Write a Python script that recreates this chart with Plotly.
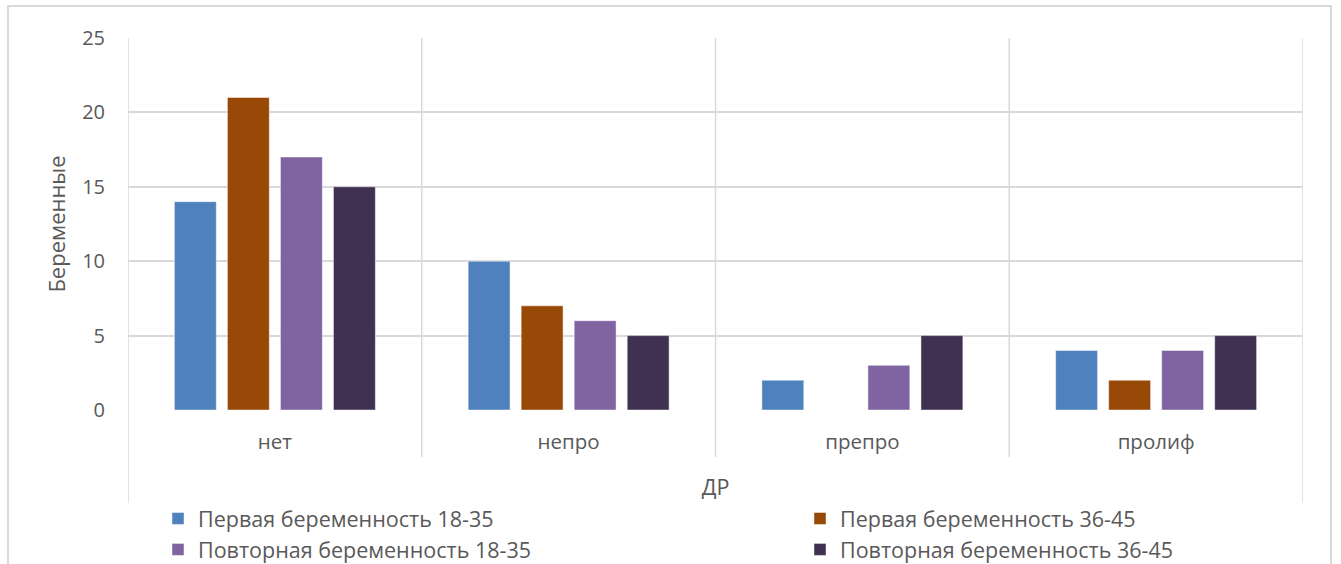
import plotly.graph_objects as go

# Data
categories = ["нет", "непро", "препро", "пролиф"]
series_names = [
    "Первая беременность 18-35",
    "Первая беременность 36-45",
    "Повторная беременность 18-35",
    "Повторная беременность 36-45",
]
first_18_35 = [14, 10, 2, 4]
first_36_45 = [21, 7, 0, 2]
repeat_18_35 = [17, 6, 3, 4]
repeat_36_45 = [15, 5, 5, 5]
y_ticks = [0, 5, 10, 15, 20, 25]

series_values = [first_18_35, first_36_45, repeat_18_35, repeat_36_45]
colors = ["#4F81BD", "#984807", "#8064A2", "#403152"]
# two-column legend: left column holds series 1 and 3, right column 2 and 4
legend_ids = ["legend", "legend2", "legend", "legend2"]

FONT = "Open Sans"
TXT = "#595959"
GRID = "#D9D9D9"

fig = go.Figure()
for name, vals, col, lg in zip(series_names, series_values, colors, legend_ids):
    fig.add_trace(go.Bar(
        x=categories, y=vals, name=name, legend=lg,
        marker=dict(color=col, line=dict(color="rgba(255,255,255,0.45)", width=1)),
    ))

# plot-area geometry in pixels
W, H = 1341, 564
L, R, T, B = 128, 1303, 38, 410
pw, ph = R - L, B - T


def px_x(x):
    return (x - L) / pw


def px_y(y):
    return (B - y) / ph


shapes = []
# outer chart border
shapes.append(dict(type="rect", xref="paper", yref="paper",
                   x0=px_x(8), x1=px_x(1331), y0=px_y(575), y1=px_y(6),
                   line=dict(color=GRID, width=2), layer="below"))
# left and right frame lines extending below the axis
for xv in (-0.5, 3.5):
    shapes.append(dict(type="line", xref="x", yref="paper",
                       x0=xv, x1=xv, y0=px_y(503), y1=1,
                       line=dict(color=GRID, width=1.5), layer="below"))
# category dividers
for xv in (0.5, 1.5, 2.5):
    shapes.append(dict(type="line", xref="x", yref="paper",
                       x0=xv, x1=xv, y0=px_y(457), y1=1,
                       line=dict(color=GRID, width=1.5), layer="below"))

legend_common = dict(orientation="v", yanchor="top", xanchor="left", itemwidth=30,
                     font=dict(size=21.5, color=TXT), traceorder="normal",
                     bgcolor="rgba(0,0,0,0)", tracegroupgap=0)

fig.update_layout(
    width=W, height=H,
    margin=dict(l=L, r=W - R, t=T, b=H - B, pad=0, autoexpand=False),
    paper_bgcolor="white", plot_bgcolor="white",
    font=dict(family=FONT, color=TXT, size=20),
    barmode="group", bargap=0.278, bargroupgap=0.21,
    shapes=shapes,
    xaxis=dict(
        range=[-0.5, 3.5], showgrid=False, zeroline=False, showline=False,
        ticks="", tickfont=dict(size=20.5, color=TXT), ticklabelstandoff=17,
        title=dict(text="ДР", font=dict(size=21.5, color=TXT), standoff=26),
    ),
    yaxis=dict(
        range=[0, 25], tickvals=y_ticks, showgrid=True, gridcolor=GRID, gridwidth=1.5,
        zeroline=False, showline=False, ticks="",
        tickfont=dict(size=20, color=TXT), ticklabelstandoff=22,
        title=dict(text="Беременные", font=dict(size=22, color=TXT), standoff=10),
    ),
    legend=dict(x=px_x(158), y=px_y(498), **legend_common),
    legend2=dict(x=px_x(800), y=px_y(498), **legend_common),
)

fig.write_html("out.html")
